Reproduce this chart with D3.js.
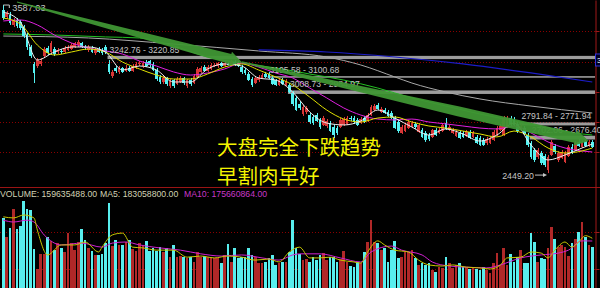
<!DOCTYPE html>
<html>
<head>
<meta charset="utf-8">
<title>大盘完全下跌趋势</title>
<script src="https://d3js.org/d3.v7.min.js"></script>
<style>
  body { margin: 0; background: #000; overflow: hidden; }
  svg { display: block; }
</style>
</head>
<body>
<div id="chart"></div>
<script>
// daily candles (index points)
var opens = [3553,3506,3519,3452,3486,3472,3438,3384,3303,3188,
  3174,3188,3242,3296,3269,3289,3269,3276,3269,3283,
  3289,3303,3316,3330,3303,3283,3296,3262,3289,3283,
  3303,3188,3106,3161,3134,3161,3140,3161,3140,3161,
  3188,3174,3201,3208,3188,3147,3100,3066,3093,3039,
  3079,3052,3066,3093,3039,3079,3059,3100,3134,3167,
  3140,3154,3174,3174,3194,3174,3188,3181,3201,3194,
  3167,3147,3120,3086,3059,3079,3093,3120,3120,3093,
  3079,3046,3079,3046,3046,2991,2958,2917,2849,2863,
  2842,2829,2842,2809,2775,2768,2788,2761,2754,2761,
  2775,2782,2822,2822,2809,2788,2822,2802,2842,2876,
  2910,2863,2876,2863,2856,2822,2795,2721,2734,2754,
  2761,2782,2727,2741,2721,2707,2694,2741,2721,2734,
  2788,2741,2721,2700,2721,2721,2700,2727,2694,2694,
  2687,2673,2653,2653,2673,2707,2741,2707,2761,2822,
  2809,2782,2741,2754,2707,2653,2605,2558,2585,2565,
  2470,2572,2633,2538,2551,2524,2565,2626,2605,2660,
  2626,2666,2633,2660];
var closes = [3499,3533,3465,3486,3445,3431,3377,3303,3242,3127,
  3215,3208,3289,3262,3330,3255,3283,3269,3296,3303,
  3316,3330,3337,3303,3296,3303,3269,3289,3269,3262,
  3269,3134,3134,3140,3161,3134,3161,3140,3174,3188,
  3194,3194,3174,3181,3147,3086,3066,3093,3052,3073,
  3039,3086,3093,3059,3079,3052,3106,3154,3161,3140,
  3167,3181,3181,3194,3174,3194,3181,3201,3188,3174,
  3134,3127,3079,3046,3093,3100,3113,3100,3093,3052,
  3046,3079,3052,3073,2998,2917,2876,2890,2897,2890,
  2795,2788,2802,2761,2822,2802,2734,2707,2721,2809,
  2815,2822,2815,2795,2775,2815,2795,2842,2897,2903,
  2883,2883,2856,2836,2822,2754,2734,2761,2775,2795,
  2788,2761,2775,2694,2673,2680,2741,2707,2741,2775,
  2748,2761,2741,2727,2687,2694,2727,2687,2721,2653,
  2639,2639,2680,2687,2727,2754,2768,2822,2822,2782,
  2775,2734,2768,2714,2639,2558,2538,2605,2517,2504,
  2558,2660,2592,2585,2592,2585,2626,2592,2653,2633,
  2660,2633,2660,2626];
var highs = [3587.03,3547,3540,3499,3499,3486,3452,3398,3316,3201,
  3228,3228,3303,3310,3343,3303,3296,3289,3310,3316,
  3330,3337,3350,3337,3316,3316,3310,3296,3303,3296,
  3316,3215,3147,3174,3174,3167,3181,3174,3188,3201,
  3208,3208,3215,3215,3201,3161,3113,3106,3100,3086,
  3086,3100,3106,3100,3086,3093,3120,3167,3174,3181,
  3181,3194,3194,3201,3201,3208,3201,3215,3215,3208,
  3181,3161,3134,3100,3106,3113,3127,3134,3134,3106,
  3086,3093,3093,3086,3059,3005,2971,2937,2910,2903,
  2856,2842,2856,2822,2836,2815,2802,2775,2768,2822,
  2829,2836,2836,2836,2822,2829,2836,2856,2910,2917,
  2924,2897,2890,2876,2870,2836,2809,2775,2788,2809,
  2802,2795,2788,2754,2734,2721,2748,2754,2754,2788,
  2822,2775,2754,2741,2734,2734,2741,2741,2734,2707,
  2700,2687,2694,2700,2741,2768,2782,2836,2836,2836,
  2829,2795,2782,2768,2721,2666,2619,2619,2599,2578,
  2572,2673,2646,2599,2605,2599,2639,2646,2666,2680,
  2673,2680,2673,2673];
var lows = [3486,3492,3452,3438,3431,3418,3364,3283,3228,3059,
  3161,3174,3228,3249,3262,3242,3255,3255,3262,3276,
  3283,3296,3303,3296,3283,3269,3262,3249,3262,3249,
  3255,3120,3093,3127,3120,3127,3134,3134,3134,3154,
  3174,3161,3167,3167,3140,3073,3052,3052,3039,3025,
  3025,3046,3059,3046,3025,3039,3052,3093,3127,3134,
  3134,3147,3167,3161,3167,3167,3174,3174,3174,3167,
  3120,3113,3073,3032,3052,3066,3086,3093,3086,3046,
  3039,3039,3046,3039,2991,2903,2870,2876,2836,2849,
  2782,2775,2795,2748,2768,2754,2727,2687,2707,2754,
  2768,2775,2802,2782,2768,2782,2788,2795,2836,2870,
  2876,2856,2849,2829,2815,2748,2721,2714,2727,2748,
  2754,2748,2721,2687,2660,2666,2687,2700,2714,2727,
  2741,2734,2714,2694,2680,2687,2694,2680,2687,2646,
  2633,2633,2639,2646,2666,2700,2734,2700,2754,2768,
  2768,2721,2734,2707,2626,2545,2524,2545,2504,2490,
  2449.2,2565,2578,2524,2545,2517,2558,2578,2599,2626,
  2619,2626,2626,2619];
// volume in millions of shares
var volumes = [238,186,211,262,208,216,284,262,259,154,
  100,141,141,186,176,151,170,157,146,197,
  170,151,173,208,178,157,149,138,138,141,
  170,278,162,178,165,165,173,178,154,149,
  170,162,176,149,157,149,160,146,157,132,
  165,132,135,132,130,132,119,146,132,135,
  132,132,130,130,116,138,168,119,157,130,
  132,132,157,138,132,116,116,119,130,138,
  111,116,119,119,146,232,157,140,124,127,
  119,132,124,138,143,124,132,132,119,127,
  149,119,108,105,119,116,146,173,232,173,
  170,151,157,119,151,176,130,132,146,146,
  151,130,111,116,111,116,97,92,105,103,
  132,116,103,111,116,105,105,100,105,100,
  97,105,97,89,116,143,111,157,111,141,
  119,132,151,116,116,197,173,119,130,127,
  157,214,181,160,165,160,135,170,181,200,
  227,186,165,159.635488];

// moving averages read at sampled candles
var maIdx = [0,5,10,15,20,25,30,35,40,45,50,55,60,65,70,75,80,85,90,95,100,105,110,115,120,125,130,135,140,145,150,155,160,165,170,173];
var ma5 = [3540,3472,3215,3269,3303,3303,3269,3147,3174,3147,3066,3066,3154,3188,3174,3093,3079,2998,2863,2788,2775,2802,2876,2822,2761,2707,2748,2714,2666,2707,2788,2639,2538,2572,2619,2646];
var ma10 = [3499,3459,3316,3249,3269,3289,3269,3201,3154,3113,3086,3086,3120,3167,3188,3147,3100,3046,2964,2876,2815,2795,2822,2829,2795,2768,2754,2734,2714,2694,2734,2694,2619,2585,2599,2619];
var ma20 = [3479,3486,3452,3384,3330,3296,3276,3255,3208,3174,3134,3113,3127,3154,3194,3167,3127,3093,3025,2958,2890,2842,2815,2809,2815,2795,2782,2768,2754,2748,2768,2721,2660,2619,2599,2592];
var ma60Idx = [0,15,30,40,50,60,70,80,90,100,110,120,130,140,150,160,170,173];
var ma60 = [3391,3384,3371,3364,3310,3235,3194,3161,3120,3079,3025,2958,2903,2849,2802,2754,2714,2707];
var ma120Idx = [0,25,50,75,95,105,115,120,130,140,155,173];
var ma120 = [3377,3364,3323,3276,3235,3181,3100,3059,2998,2951,2903,2856];
var ma250Idx = [75,95,115,135,155,173];
var ma250 = [3283,3269,3235,3188,3127,3066];

var volMa5Idx = [0,3,6,9,10,13,17,21,24,28,29,32,35,38,41,45,50,54,58,62,66,70,74,78,81,84,87,90,93,96,99,103,105,107,110,112,115,119,122,125,129,132,136,140,143,146,148,152,155,158,160,162,165,167,169,171,173];
var volMa5 = [241,238,246,238,205,138,165,165,173,146,159,192,197,159,157,151,151,132,135,130,135,132,124,127,119,146,159,130,130,132,124,119,116,146,176,165,151,146,124,111,108,111,105,103,100,111,130,132,146,143,130,151,173,159,173,190,183.0588];
var volMa10Idx = [0,3,7,9,12,17,23,29,32,36,40,46,52,58,64,70,76,81,85,87,93,99,105,108,114,117,123,126,131,136,142,146,152,158,163,166,170,173];
var volMa10 = [232,227,232,227,192,165,170,159,170,173,165,157,151,141,135,138,130,124,138,141,141,130,119,146,162,151,138,119,108,105,103,111,130,138,143,151,176,175.660864];

// drawn resistance zones and trend arrows
var bandHigh = [3242.76, 3105.58, 3008.73, 2791.84, 2702.06];
var bandLow = [3220.85, 3100.68, 2984.97, 2771.94, 2676.4];
var bandStart = [31, 78, 84, 152, 155];
var trendIdx = [4, 70, 172];
var trendPrice = [3607, 3201, 2666];

var priceGrid = [3411, 3201, 2998, 2795, 2592];
var volGrid = [100, 200];

var W = 600, H = 288, axisX = 595;
var fmt = d3.format(".2f");
var font = "'Liberation Sans', Arial, sans-serif";

var svg = d3.select("#chart").append("svg")
    .attr("width", W)
    .attr("height", H)
    .style("background", "#000");

var n = opens.length;
var x = d3.scaleBand().domain(d3.range(n)).range([2, 593.6]).paddingInner(0.22).paddingOuter(0);
var cx = function(i) { return x(i) + x.bandwidth() / 2; };
var yP = d3.scaleLinear().domain([2355, 3621]).range([187, 0]);
var yV = d3.scaleLinear().domain([0, 300]).range([306, 195]);

// grid
svg.append("g").selectAll("line").data(priceGrid).join("line")
    .attr("x1", 0).attr("x2", axisX)
    .attr("y1", function(d) { return Math.round(yP(d)) + 0.5; })
    .attr("y2", function(d) { return Math.round(yP(d)) + 0.5; })
    .attr("stroke", "#8a0000").attr("stroke-dasharray", "1,2");
svg.append("g").selectAll("line").data(volGrid).join("line")
    .attr("x1", 0).attr("x2", axisX)
    .attr("y1", function(d) { return Math.round(yV(d)) + 0.5; })
    .attr("y2", function(d) { return Math.round(yV(d)) + 0.5; })
    .attr("stroke", "#8a0000").attr("stroke-dasharray", "1,2");

// separator between panels
svg.append("line").attr("x1", 0).attr("x2", W).attr("y1", 187.5).attr("y2", 187.5)
    .attr("stroke", "#9a1414").attr("stroke-width", 1.2);

// right axes, their labels sit outside the window so only ticks show
var yVaxis = yV.copy().domain([yV.invert(288), yV.invert(187)]).range([288, 187]);
[[yP, priceGrid], [yVaxis, volGrid]].forEach(function(a) {
  var g = svg.append("g").attr("transform", "translate(" + (axisX + 0.5) + ",0)")
      .call(d3.axisRight(a[0]).tickValues(a[1]).tickSize(4).tickSizeOuter(0).tickFormat(""));
  g.selectAll("path,line").attr("stroke", "#a01818");
});

// resistance bands
var bands = bandHigh.map(function(h, k) { return {hi: h, lo: bandLow[k], start: bandStart[k]}; });
svg.append("g").selectAll("rect").data(bands).join("rect")
    .attr("x", function(d) { return x(d.start); })
    .attr("width", function(d) { return axisX - x(d.start); })
    .attr("y", function(d) { return yP(d.hi); })
    .attr("height", function(d) { return Math.max(1.6, yP(d.lo) - yP(d.hi)); })
    .attr("fill", "#9c9c9c");

function maLine(idx, vals, scale, color, w) {
  svg.append("path")
      .datum(idx.map(function(i, k) { return [cx(i), scale(vals[k])]; }))
      .attr("d", d3.line().curve(d3.curveMonotoneX))
      .attr("fill", "none")
      .attr("stroke", color)
      .attr("stroke-width", w);
}

// long averages under candles
maLine(ma120Idx, ma120, yP, "#a8a8a8", 1);
maLine(ma250Idx, ma250, yP, "#1c1cc8", 1.2);
maLine(ma60Idx, ma60, yP, "#22c022", 1);

// candles
var candles = svg.append("g").selectAll("g").data(d3.range(n)).join("g");
var up = function(i) { return closes[i] >= opens[i]; };
candles.append("line")
    .attr("x1", function(i) { return Math.round(cx(i)) + 0.5; })
    .attr("x2", function(i) { return Math.round(cx(i)) + 0.5; })
    .attr("y1", function(i) { return yP(highs[i]); })
    .attr("y2", function(i) { return yP(lows[i]); })
    .attr("stroke", function(i) { return up(i) ? "#e03a3a" : "#54f2f2"; });
candles.append("rect")
    .attr("x", function(i) { return x(i); })
    .attr("width", x.bandwidth())
    .attr("y", function(i) { return yP(Math.max(opens[i], closes[i])); })
    .attr("height", function(i) { return Math.max(1, Math.abs(yP(opens[i]) - yP(closes[i]))); })
    .attr("fill", function(i) { return up(i) ? "#d83636" : "#54f2f2"; })
    .attr("shape-rendering", "crispEdges");

// volume bars
svg.append("g").selectAll("rect").data(d3.range(n)).join("rect")
    .attr("x", function(i) { return x(i); })
    .attr("width", x.bandwidth())
    .attr("y", function(i) { return yV(volumes[i]); })
    .attr("height", function(i) { return yV(0) - yV(volumes[i]); })
    .attr("fill", function(i) { return up(i) ? "#b02828" : "#58eeee"; })
    .attr("shape-rendering", "crispEdges");

// short averages
maLine(maIdx, ma20, yP, "#e020e0", 1);
maLine(maIdx, ma10, yP, "#e0e000", 1);
maLine(maIdx, ma5, yP, "#f0f0f0", 1);
maLine(volMa10Idx, volMa10, yV, "#d020d0", 1);
maLine(volMa5Idx, volMa5, yV, "#c8c800", 1);

// band labels
svg.append("g").selectAll("text").data(bands).join("text")
    .attr("x", function(d) { return x(d.start) + 2; })
    .attr("y", function(d) { return yP(d.hi) - 3; })
    .text(function(d) { return fmt(d.hi) + " - " + fmt(d.lo); })
    .attr("fill", "#c4c4c4")
    .style("font", "8.6px " + font);

// extreme labels
var iHi = d3.maxIndex(highs), iLo = d3.minIndex(lows);
var hx = cx(iHi), hy = yP(highs[iHi]);
svg.append("path").attr("d", "M" + hx + "," + hy + "h6v3")
    .attr("fill", "none").attr("stroke", "#c4c4c4");
svg.append("text").attr("x", hx + 9).attr("y", hy + 6)
    .text(fmt(highs[iHi])).attr("fill", "#c4c4c4").style("font", "9.2px " + font);
var lx = cx(iLo), ly = yP(lows[iLo]);
svg.append("line").attr("x1", lx - 13).attr("x2", lx - 3).attr("y1", ly + 2).attr("y2", ly + 2)
    .attr("stroke", "#c4c4c4");
svg.append("path").attr("d", "M" + (lx - 1) + "," + (ly + 2) + "l-4,-2v4z").attr("fill", "#c4c4c4");
svg.append("text").attr("x", lx - 14).attr("y", ly + 5.5).attr("text-anchor", "end")
    .text(fmt(lows[iLo])).attr("fill", "#c4c4c4").style("font", "8.8px " + font);

// marker box on the price axis
svg.append("rect").attr("x", 595.5).attr("y", yP(3242) - 2).attr("width", 7).attr("height", 12)
    .attr("fill", "#000022").attr("stroke", "#3030d8");
svg.append("text").attr("x", 597).attr("y", yP(3242) + 7).text("3")
    .attr("fill", "#ffffff").style("font", "8px " + font);

// trend arrows
function arrow(x1, y1, x2, y2, w1, w2, ramp, headW, headL) {
  var dx = x2 - x1, dy = y2 - y1, len = Math.hypot(dx, dy);
  var ux = dx / len, uy = dy / len, nx = -uy, ny = ux;
  var bx = x2 - ux * headL, by = y2 - uy * headL;
  var mx = x1 + (bx - x1) * ramp, my = y1 + (by - y1) * ramp;
  var p = [
    [x1 + nx * w1 / 2, y1 + ny * w1 / 2],
    [mx + nx * w2 / 2, my + ny * w2 / 2],
    [bx + nx * w2 / 2, by + ny * w2 / 2],
    [bx + nx * headW / 2, by + ny * headW / 2],
    [x2, y2],
    [bx - nx * headW / 2, by - ny * headW / 2],
    [bx - nx * w2 / 2, by - ny * w2 / 2],
    [mx - nx * w2 / 2, my - ny * w2 / 2],
    [x1 - nx * w1 / 2, y1 - ny * w1 / 2]
  ];
  svg.append("path").attr("d", "M" + p.join("L") + "Z")
      .attr("fill", "#3f9634").attr("fill-opacity", 0.95);
}
arrow(cx(trendIdx[0]), yP(trendPrice[0]), cx(trendIdx[1]), yP(trendPrice[1]), 1, 10, 1, 15, 12);
arrow(cx(trendIdx[1]), yP(trendPrice[1]), cx(trendIdx[2]), yP(trendPrice[2]), 1.5, 10, 0.65, 16, 14);

// volume header
var head = svg.append("text").attr("x", 0).attr("y", 197).style("font", "8.7px " + font);
head.append("tspan").attr("fill", "#d2d2b4").text("VOLUME: " + fmt(volumes[n - 1] * 1e6));
head.append("tspan").attr("x", 100).attr("fill", "#d2d2b4").text("MA5: " + fmt(volMa5[volMa5.length - 1] * 1e6));
head.append("tspan").attr("x", 184).attr("fill", "#c838c8").text("MA10: " + fmt(volMa10[volMa10.length - 1] * 1e6));

// comment text
var note = svg.append("g").attr("fill", "#f4f400")
    .style("font", "20.5px/1 'Noto Sans CJK SC', sans-serif");
note.append("text").attr("x", 217).attr("y", 155).text("大盘完全下跌趋势");
note.append("text").attr("x", 217).attr("y", 184).text("早割肉早好");
</script>
</body>
</html>
